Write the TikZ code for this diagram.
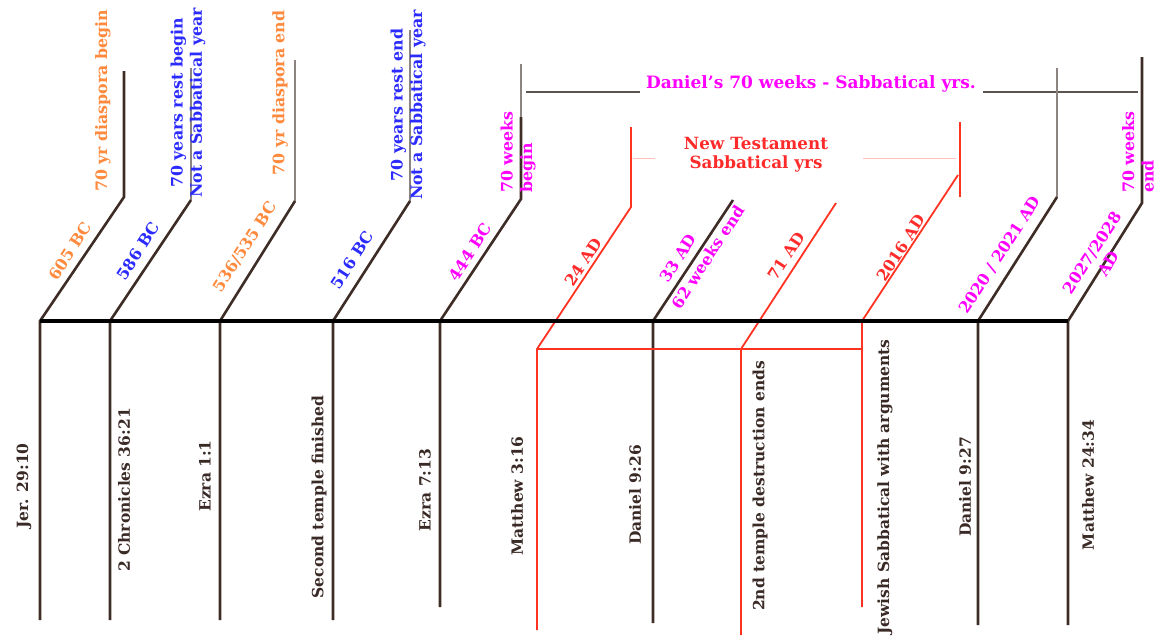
\documentclass[tikz,border=0pt]{standalone}
\usepackage{fontspec}
\setmainfont{DejaVu Serif}
\definecolor{orng}{HTML}{FF8A3D}
\definecolor{blu}{HTML}{2B2BFF}
\definecolor{mag}{HTML}{FF00FF}
\definecolor{redt}{HTML}{FF2A2A}
\definecolor{redl}{HTML}{FF3322}
\definecolor{redf}{HTML}{FFC0B8}
\definecolor{brn}{HTML}{3E2C26}
\definecolor{gry}{HTML}{8C8480}
\definecolor{dgry}{HTML}{5A5450}
\definecolor{txt}{HTML}{3A2A25}
\tikzset{
  mainln/.style={line width=3.2pt, black},
  stem/.style={line width=2.6pt, brn},
  thinstem/.style={line width=1.6pt, gry},
  redln/.style={line width=1.8pt, redl},
  redthick/.style={line width=2.6pt, redl},
  faint/.style={line width=0.8pt, redf},
  spanln/.style={line width=1.4pt, dgry},
  lab/.style={font=\bfseries\fontsize{15.8}{19.5}\selectfont, inner sep=0pt, align=center},
  vlab/.style={lab, rotate=90},
  dlab/.style={lab, rotate=57},
  blab/.style={lab, rotate=90, text=txt, font=\bfseries\fontsize{15.5}{19}\selectfont},
}
\begin{document}
\begin{tikzpicture}[x=1pt, y=-1pt]
\useasboundingbox (0,0) rectangle (1156,637);
% ---------- coordinates ----------
\coordinate (m1) at (40,321);  \coordinate (d1) at (124,197); \coordinate (t1) at (124,71);  \coordinate (b1) at (40,620);
\coordinate (m2) at (110,321); \coordinate (d2) at (191,200); \coordinate (t2) at (191,68);  \coordinate (b2) at (110,620);
\coordinate (m3) at (220,321); \coordinate (d3) at (295,201); \coordinate (t3) at (295,60);  \coordinate (b3) at (220,620);
\coordinate (m4) at (333,321); \coordinate (d4) at (410,201); \coordinate (t4) at (410,30);  \coordinate (b4) at (333,620);
\coordinate (m5) at (440,321); \coordinate (d5) at (521,199); \coordinate (k5) at (521,117); \coordinate (t5) at (521,64); \coordinate (b5) at (440,607);
\coordinate (r6) at (537,349); \coordinate (d6) at (631,207); \coordinate (t6) at (631,127); \coordinate (b6) at (537,630);
\coordinate (m7) at (653,321); \coordinate (d7) at (733,200); \coordinate (b7) at (653,623);
\coordinate (r8) at (741,349); \coordinate (d8) at (836,203); \coordinate (b8) at (741,635);
\coordinate (m9) at (862,321); \coordinate (r9) at (862,349); \coordinate (d9) at (958,175); \coordinate (b9) at (862,607);
\coordinate (u9) at (960,122); \coordinate (l9) at (960,197);
\coordinate (m10) at (978,321); \coordinate (d10) at (1057,197); \coordinate (t10) at (1057,68); \coordinate (b10) at (978,625);
\coordinate (m11) at (1068,321); \coordinate (d11) at (1142,203); \coordinate (t11) at (1142,57); \coordinate (b11) at (1068,625);
\coordinate (s1) at (526,92); \coordinate (s2) at (640,92); \coordinate (s3) at (983,92); \coordinate (s4) at (1138,92);
\coordinate (f1) at (633,158); \coordinate (f2) at (655,158); \coordinate (f3) at (863,158); \coordinate (f4) at (956,158);

% ---------- lines ----------
\draw[faint] (f1) -- (f2);
\draw[faint] (f3) -- (f4);
\draw[spanln] (s1) -- (s2);
\draw[spanln] (s3) -- (s4);

\draw[thinstem] (d2) -- (t2);
\draw[thinstem] (d3) -- (t3);
\draw[thinstem] (d4) -- (t4);
\draw[thinstem] (k5) -- (t5);
\draw[thinstem] (d10) -- (t10);

\draw[stem] (b1) -- (m1) -- (d1) -- (t1);
\draw[stem] (b2) -- (m2) -- (d2);
\draw[stem] (b3) -- (m3) -- (d3);
\draw[stem] (b4) -- (m4) -- (d4);
\draw[stem] (b5) -- (m5) -- (d5) -- (k5);
\draw[stem] (b7) -- (m7) -- (d7);
\draw[stem] (b10) -- (m10) -- (d10);
\draw[stem] (b11) -- (m11) -- (d11) -- (t11);

\draw[redln] (b6) -- (r6) -- (d6) -- (t6);
\draw[redln] (b8) -- (r8) -- (d8);
\draw[redln] (b9) -- (m9) -- (d9);
\draw[redln] (u9) -- (l9);
\draw[redthick] (r6) -- (r9);

\draw[mainln] (m1) -- (m11);

% ---------- top labels ----------
\node[vlab, text=orng] (top1) at (103,101) {70 yr diaspora begin};
\node[vlab, text=blu]  (top2) at (188,103) {70 years rest begin\\Not a Sabbatical year};
\node[vlab, text=orng] (top3) at (280,93)  {70 yr diaspora end};
\node[vlab, text=blu]  (top4) at (408,105) {70 years rest end\\Not a Sabbatical year};
\node[vlab, text=mag, align=left, anchor=west] (top5) at (518,193) {70 weeks\\begin};
\node[vlab, text=mag, align=left, anchor=west] (top11) at (1138,193) {70 weeks\\end};

\node[lab, text=mag, font=\bfseries\fontsize{17}{20}\selectfont] (span) at (811,84) {Daniel's 70 weeks - Sabbatical yrs.};
\node[lab, text=redt, font=\bfseries\fontsize{16.8}{19}\selectfont] (nt) at (756,155) {New Testament\\Sabbatical yrs};

% ---------- diagonal labels ----------
\node[dlab, text=orng] (y1) at (70,251) {605 BC};
\node[dlab, text=blu]  (y2) at (138,251) {586 BC};
\node[dlab, text=orng] (y3) at (245,247) {536/535 BC};
\node[dlab, text=blu]  (y4) at (352,260) {516 BC};
\node[dlab, text=mag]  (y5) at (470,252) {444 BC};
\node[dlab, text=redt] (y6) at (583,262) {24 AD};
\node[dlab, text=mag]  (y7a) at (678,258) {33 AD};
\node[dlab, text=mag]  (y7b) at (708,257) {62 weeks end};
\node[dlab, text=redt] (y8) at (786,256) {71 AD};
\node[dlab, text=redt] (y9) at (901,248) {2016 AD};
\node[dlab, text=mag]  (y10) at (1000,255) {2020 / 2021 AD};
\node[dlab, text=mag]  (y11) at (1100,258) {2027/2028\\AD};

% ---------- bottom labels ----------
\node[blab] (n1)  at (24,486)  {Jer. 29:10};
\node[blab] (n2)  at (124,490) {2 Chronicles 36:21};
\node[blab] (n3)  at (205,476) {Ezra 1:1};
\node[blab] (n4)  at (319,497) {Second temple finished};
\node[blab] (n5)  at (425,490) {Ezra 7:13};
\node[blab] (n6)  at (517,496) {Matthew 3:16};
\node[blab] (n7)  at (635,495) {Daniel 9:26};
\node[blab] (n8)  at (760,486) {2nd temple destruction ends};
\node[blab] (n9)  at (885,487) {Jewish Sabbatical with arguments};
\node[blab] (n10) at (965,487) {Daniel 9:27};
\node[blab] (n11) at (1088,485) {Matthew 24:34};
\end{tikzpicture}
\end{document}
